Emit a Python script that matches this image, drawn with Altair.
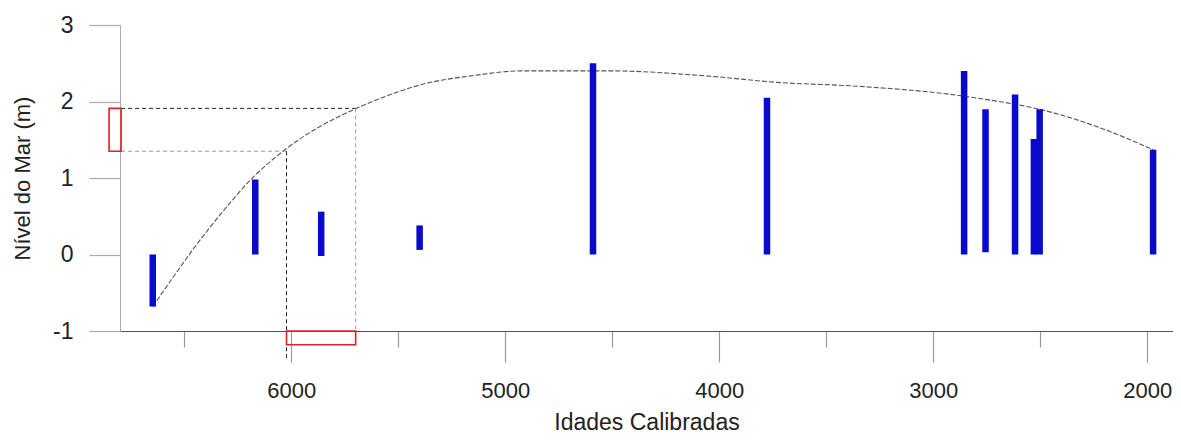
import altair as alt
import pandas as pd

# --- data ---
bar_age = [6647, 6168, 5860, 5400, 4590, 3777, 2856, 2756, 2618, 2530, 2503, 1973]
bar_low = [-0.68, 0.0, -0.02, 0.06, 0.0, 0.0, 0.0, 0.03, 0.0, 0.0, 0.0, 0.0]
bar_high = [0.0, 0.98, 0.56, 0.38, 2.50, 2.05, 2.40, 1.90, 2.09, 1.51, 1.90, 1.37]

curve_age = [6647, 6560, 6450, 6320, 6185, 6029, 5874, 5703, 5517, 5393, 5145, 4927,
             4508, 4042, 3730, 3357, 2860, 2410, 2177, 1973]
curve_lvl = [-0.68, -0.33, 0.10, 0.56, 0.99, 1.37, 1.66, 1.90, 2.11, 2.22, 2.34, 2.40,
             2.40, 2.33, 2.25, 2.20, 2.07, 1.83, 1.61, 1.37]

# dashed guide lines (x, x2, y, y2, style)
guide_x = [6795, 6795, 6022, 5699]
guide_x2 = [5699, 6022, 6022, 5699]
guide_y = [1.91, 1.35, 1.35, 1.91]
guide_y2 = [1.91, 1.35, -1.38, -1.18]
guide_kind = ["dark", "light", "dark", "light"]

# red boxes (x, x2, y, y2)
box_x = [6851, 6022]
box_x2 = [6795, 5699]
box_y = [1.35, -1.0]
box_y2 = [1.91, -1.18]

x_ticks = [6500, 6000, 5500, 5000, 4500, 4000, 3500, 3000, 2500, 2000]
y_ticks = [-1, -0.5, 0, 0.5, 1, 1.5, 2, 2.5, 3]

bars = pd.DataFrame({"age": bar_age, "lo": bar_low, "hi": bar_high})
curve = pd.DataFrame({"age": curve_age, "lvl": curve_lvl})
guides = pd.DataFrame({"x": guide_x, "x2": guide_x2, "y": guide_y, "y2": guide_y2, "kind": guide_kind})
boxes = pd.DataFrame({"x": box_x, "x2": box_x2, "y": box_y, "y2": box_y2})

FONT = "Liberation Sans"

xscale = alt.Scale(domain=[6800, 1880], nice=False, zero=False)
yscale = alt.Scale(domain=[-1, 3], nice=False, zero=False)

xaxis = alt.Axis(
    values=x_ticks,
    labelExpr="datum.value % 1000 === 0 ? toString(datum.value) : ''",
    tickSize={"condition": {"test": "datum.value % 1000 === 0", "value": 31}, "value": 16},
    grid=False, domainColor="#555", tickColor="#999", tickWidth=1.2,
    labelFontSize=22, labelColor="#222", labelFont=FONT, labelPadding=18,
    title="Idades Calibradas", titleFontSize=23, titleFont=FONT,
    titleFontWeight="normal", titleColor="#222", titlePadding=10,
)
yaxis = alt.Axis(
    values=y_ticks,
    labelExpr="datum.value % 1 === 0 ? toString(datum.value) : ''",
    tickSize={"condition": {"test": "datum.value % 1 === 0", "value": 31}, "value": 18},
    grid=False, domainColor="#aaa", tickColor="#aaa", tickWidth=1.2,
    labelFontSize=23, labelColor="#222", labelFont=FONT, labelPadding=16,
    title="Nível do Mar (m)", titleFontSize=22, titleFont=FONT,
    titleFontWeight="normal", titleColor="#222", titlePadding=18,
)

base_curve = alt.Chart(curve).mark_line(
    color="#555", strokeWidth=1.1, strokeDash=[5, 2], interpolate="monotone"
).encode(
    x=alt.X("age:Q", scale=xscale, axis=xaxis),
    y=alt.Y("lvl:Q", scale=yscale, axis=yaxis),
)

guide_layer = alt.Chart(guides).mark_rule(strokeWidth=1, strokeDash=[4, 3]).encode(
    x="x:Q", x2="x2", y="y:Q", y2="y2",
    color=alt.Color("kind:N", scale=alt.Scale(domain=["dark", "light"], range=["#222", "#999"]), legend=None),
)

box_layer = alt.Chart(boxes).mark_rect(fill=None, stroke="#e0202a", strokeWidth=1.6).encode(
    x="x:Q", x2="x2", y="y:Q", y2="y2",
)

bar_layer = alt.Chart(bars).mark_rule(strokeWidth=6.5, color="#0a0acc", strokeCap="butt").encode(
    x="age:Q", y="lo:Q", y2="hi",
)

chart = alt.layer(base_curve, guide_layer, bar_layer, box_layer).properties(
    width=1053, height=306,
    autosize=alt.AutoSizeParams(type="none"),
    padding={"left": 112, "top": 17, "right": 0, "bottom": 104},
    background="white",
).configure_view(stroke=None)

chart.save("out.html", embed_options={"renderer": "svg", "actions": False})
